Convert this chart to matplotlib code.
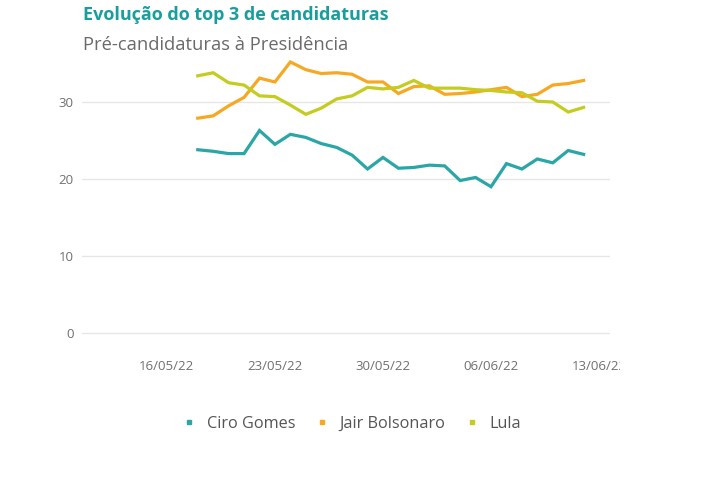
import numpy as np
import pandas as pd
import matplotlib
matplotlib.use("Agg")
import matplotlib.pyplot as plt
import matplotlib.dates as mdates
from matplotlib.patches import Rectangle

plt.rcParams['font.family'] = ['Open Sans', 'DejaVu Sans']

# daily series, 18/05/22 .. 12/06/22
dates = pd.date_range("2022-05-18", "2022-06-12", freq="D")
ciro = [23.8, 23.6, 23.3, 23.3, 26.3, 24.5, 25.8, 25.4, 24.6, 24.1, 23.1, 21.3, 22.8,
        21.4, 21.5, 21.8, 21.7, 19.8, 20.2, 19.0, 22.0, 21.3, 22.6, 22.1, 23.7, 23.2]
bolsonaro = [27.9, 28.2, 29.5, 30.6, 33.1, 32.6, 35.2, 34.2, 33.7, 33.8, 33.6, 32.6, 32.6,
             31.1, 32.0, 32.1, 31.0, 31.1, 31.3, 31.6, 31.9, 30.7, 31.0, 32.2, 32.4, 32.8]
lula = [33.4, 33.8, 32.5, 32.2, 30.8, 30.7, 29.6, 28.4, 29.2, 30.4, 30.8, 31.9, 31.7,
        31.9, 32.8, 31.8, 31.8, 31.8, 31.6, 31.5, 31.3, 31.2, 30.1, 30.0, 28.7, 29.3]
series_names = ["Ciro Gomes", "Jair Bolsonaro", "Lula"]
colors = ["#2aa6a6", "#f7a823", "#c4cc1f"]
tick_dates = pd.to_datetime(["2022-05-16", "2022-05-23", "2022-05-30", "2022-06-06", "2022-06-13"])
yticks = [0, 10, 20, 30]

W, H = 712, 500
fig = plt.figure(figsize=(W / 100, H / 100), dpi=100)
fig.patch.set_facecolor("white")

# axes placed in pixel terms
x0, x1 = 82, 610
ylo, yhi = -1.5, 37
y0px = 333 + (0 - ylo) * 7.7
y1px = 333 - yhi * 7.7
ax = fig.add_axes([x0 / W, (H - y0px) / H, (x1 - x0) / W, (y0px - y1px) / H])

for vals, name, c in zip([ciro, bolsonaro, lula], series_names, colors):
    ax.plot(dates, vals, color=c, lw=2.3, label=name, solid_joinstyle="miter")

ax.set_xlim(pd.Timestamp("2022-05-10 12:00"), pd.Timestamp("2022-06-13 17:00"))
ax.set_ylim(ylo, yhi)
ax.set_yticks(yticks)
ax.set_xticks(tick_dates)
ax.xaxis.set_major_formatter(mdates.DateFormatter("%d/%m/%y"))
ax.grid(axis="y", color="#e6e6e6", lw=1)
ax.set_axisbelow(True)
for s in ax.spines.values():
    s.set_visible(False)
ax.tick_params(axis="both", length=0, labelsize=9.5, colors="#707070")
ax.tick_params(axis="x", pad=11)
ax.tick_params(axis="y", pad=6)

# the last date label is cut off at the chart edge in the original
fig.patches.append(Rectangle((620 / W, 1 - 385 / H), (W - 620) / W, 45 / H,
                             transform=fig.transFigure, facecolor="white",
                             edgecolor="none", zorder=10))

fig.text(83 / W, 1 - 15 / H, "Evolução do top 3 de candidaturas", fontsize=13,
         fontweight="bold", color="#1a9d9d", va="center", ha="left")
fig.text(83 / W, 1 - 45 / H, "Pré-candidaturas à Presidência", fontsize=13.2,
         color="#6a6a6a", va="center", ha="left")

handles = [plt.Line2D([], [], marker="s", ls="none", color=c, markersize=3.5) for c in colors]
fig.legend(handles, series_names, loc="center", bbox_to_anchor=(352 / W, 1 - 424 / H),
           ncol=3, frameon=False, fontsize=11.7, labelcolor="#555555",
           handletextpad=0.7, columnspacing=1.2, handlelength=0.8)

fig.savefig("out.png", dpi=100)
